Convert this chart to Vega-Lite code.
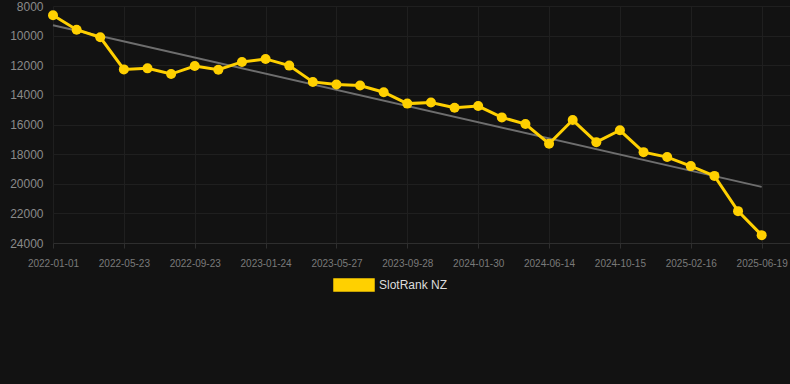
{
  "$schema": "https://vega.github.io/schema/vega-lite/v6.json",
  "width": 737,
  "height": 237,
  "autosize": {"type": "none"},
  "padding": {"left": 53, "top": 6, "right": 0, "bottom": 141},
  "background": "#121212",
  "config": {
    "view": {"stroke": null},
    "font": "Liberation Sans",
    "axis": {"gridColor": "#1f1f1f", "gridWidth": 1, "domain": false, "ticks": false}
  },
  "datasets": {
    "rank": [
      {"i": 0, "date": "2022-01-01", "rank": 8630, "series": "SlotRank NZ"},
      {"i": 1, "date": "2022-02-17", "rank": 9600, "series": "SlotRank NZ"},
      {"i": 2, "date": "2022-04-05", "rank": 10115, "series": "SlotRank NZ"},
      {"i": 3, "date": "2022-05-23", "rank": 12280, "series": "SlotRank NZ"},
      {"i": 4, "date": "2022-07-03", "rank": 12210, "series": "SlotRank NZ"},
      {"i": 5, "date": "2022-08-13", "rank": 12595, "series": "SlotRank NZ"},
      {"i": 6, "date": "2022-09-23", "rank": 12055, "series": "SlotRank NZ"},
      {"i": 7, "date": "2022-11-03", "rank": 12305, "series": "SlotRank NZ"},
      {"i": 8, "date": "2022-12-14", "rank": 11776, "series": "SlotRank NZ"},
      {"i": 9, "date": "2023-01-24", "rank": 11573, "series": "SlotRank NZ"},
      {"i": 10, "date": "2023-03-06", "rank": 12025, "series": "SlotRank NZ"},
      {"i": 11, "date": "2023-04-16", "rank": 13125, "series": "SlotRank NZ"},
      {"i": 12, "date": "2023-05-27", "rank": 13305, "series": "SlotRank NZ"},
      {"i": 13, "date": "2023-07-08", "rank": 13370, "series": "SlotRank NZ"},
      {"i": 14, "date": "2023-08-18", "rank": 13820, "series": "SlotRank NZ"},
      {"i": 15, "date": "2023-09-28", "rank": 14590, "series": "SlotRank NZ"},
      {"i": 16, "date": "2023-11-08", "rank": 14520, "series": "SlotRank NZ"},
      {"i": 17, "date": "2023-12-19", "rank": 14870, "series": "SlotRank NZ"},
      {"i": 18, "date": "2024-01-30", "rank": 14755, "series": "SlotRank NZ"},
      {"i": 19, "date": "2024-03-15", "rank": 15520, "series": "SlotRank NZ"},
      {"i": 20, "date": "2024-04-30", "rank": 15970, "series": "SlotRank NZ"},
      {"i": 21, "date": "2024-06-14", "rank": 17300, "series": "SlotRank NZ"},
      {"i": 22, "date": "2024-07-25", "rank": 15700, "series": "SlotRank NZ"},
      {"i": 23, "date": "2024-09-04", "rank": 17190, "series": "SlotRank NZ"},
      {"i": 24, "date": "2024-10-15", "rank": 16390, "series": "SlotRank NZ"},
      {"i": 25, "date": "2024-11-25", "rank": 17865, "series": "SlotRank NZ"},
      {"i": 26, "date": "2025-01-05", "rank": 18200, "series": "SlotRank NZ"},
      {"i": 27, "date": "2025-02-16", "rank": 18810, "series": "SlotRank NZ"},
      {"i": 28, "date": "2025-03-29", "rank": 19470, "series": "SlotRank NZ"},
      {"i": 29, "date": "2025-05-09", "rank": 21850, "series": "SlotRank NZ"},
      {"i": 30, "date": "2025-06-19", "rank": 23470, "series": "SlotRank NZ"}
    ],
    "trend": [
      {"i": 0, "rank": 9300},
      {"i": 30, "rank": 20210}
    ]
  },
  "encoding": {
    "x": {
      "field": "i",
      "type": "quantitative",
      "scale": {"domain": [0, 31.2], "nice": false, "zero": false},
      "axis": {
        "title": null,
        "values": [0, 3, 6, 9, 12, 15, 18, 21, 24, 27, 30],
        "labelExpr": "['2022-01-01','2022-05-23','2022-09-23','2023-01-24','2023-05-27','2023-09-28','2024-01-30','2024-06-14','2024-10-15','2025-02-16','2025-06-19'][round(datum.value/3)]",
        "labelColor": "#7a7a7a",
        "labelFontSize": 10,
        "labelPadding": 10,
        "domain": true,
        "domainColor": "#2e2e2e",
        "ticks": true,
        "tickColor": "#2e2e2e",
        "tickSize": 5,
        "labelFlush": false,
        "labelOverlap": false
      }
    },
    "y": {
      "field": "rank",
      "type": "quantitative",
      "scale": {"domain": [8000, 24000], "reverse": true, "nice": false, "zero": false},
      "axis": {
        "title": null,
        "format": "d",
        "values": [8000, 10000, 12000, 14000, 16000, 18000, 20000, 22000, 24000],
        "labelColor": "#8a8a8a",
        "labelFontSize": 12,
        "labelPadding": 10,
        "labelFlush": false,
        "labelOverlap": false
      }
    }
  },
  "layer": [
    {
      "data": {"name": "trend"},
      "mark": {"type": "line", "color": "#6e6e6e", "strokeWidth": 2},
      "encoding": {}
    },
    {
      "data": {"name": "rank"},
      "mark": {"type": "line", "strokeWidth": 3},
      "encoding": {
        "color": {
          "field": "series",
          "type": "nominal",
          "scale": {"domain": ["SlotRank NZ"], "range": ["#FFD000"]},
          "legend": {
            "title": null,
            "orient": "none",
            "legendX": 280,
            "legendY": 258,
            "padding": 0,
            "symbolType": "M-1,-0.3H1V0.3H-1Z",
            "symbolSize": 1600,
            "labelOffset": 4,
            "labelColor": "#dddddd",
            "labelFontSize": 12,
            "labelFont": "Liberation Sans",
            "encode": {"symbols": {"update": {"fill": {"value": "#FFD000"}, "stroke": {"value": "transparent"}, "opacity": {"value": 1}}}}
          }
        }
      }
    },
    {
      "data": {"name": "rank"},
      "mark": {"type": "point", "filled": true, "size": 100, "opacity": 1},
      "encoding": {
        "color": {"field": "series", "type": "nominal"}
      }
    }
  ]
}
